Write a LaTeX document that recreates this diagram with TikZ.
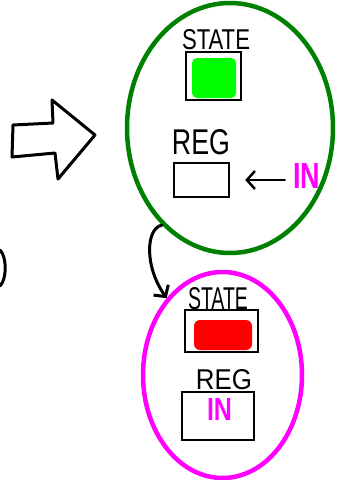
\documentclass[tikz,border=0pt]{standalone}
\usepackage{fontspec}
\setmainfont{Liberation Sans}
\usetikzlibrary{shapes.geometric,arrows.meta}
\definecolor{ovalgreen}{RGB}{0,128,0}
\definecolor{inkgreen}{RGB}{0,255,0}
\definecolor{inkred}{RGB}{255,0,0}
\definecolor{inkmagenta}{RGB}{255,0,255}
% hand-lettered caption stretched to a given width and cap height
\newcommand{\handtext}[3]{\resizebox{#1}{#2}{#3}}

\begin{document}
\begin{tikzpicture}[x=1pt,y=-1pt,
  oval/.style={ellipse, draw, line width=4.5pt, inner sep=0pt},
  regbox/.style={draw, line width=2.5pt, inner sep=0pt},
  caption/.style={inner sep=0pt, anchor=center},
  ink/.style={line width=3pt, line cap=round, line join=round},
  barb/.style={-{Straight Barb[length=8pt,width=18pt]}}]
\useasboundingbox (0,0) rectangle (337,480);

% the two machine states
\node[oval, draw=ovalgreen, minimum width=206pt, minimum height=250pt] (top) at (230,128) {};
\node[oval, draw=inkmagenta, minimum width=159pt, minimum height=206pt] (bot) at (222.5,375) {};

% upper state: STATE register (green) and empty REG
\node[caption] (stateUlbl) at (216,40) {\handtext{68pt}{20pt}{STATE}};
\fill[inkgreen, rounded corners=5pt] (192,58) rectangle (236,98);
\node[regbox, minimum width=55pt, minimum height=48pt] (stateU) at (213.5,76) {};
\node[caption] (regUlbl) at (201,142.5) {\handtext{58pt}{25pt}{REG}};
\node[regbox, minimum width=55pt, minimum height=34pt] (regU) at (201.5,180) {};
\node[caption, text=inkmagenta] (inU) at (306.5,175.5) {\handtext{27pt}{25pt}{\bfseries IN}};
\draw[ink, line width=2.5pt, barb, shorten <=8pt, shorten >=15pt] (inU.west |- regU.east) -- (regU.east);

% lower state: STATE register (red) and REG holding IN
\node[caption] (stateLlbl) at (218,299) {\handtext{60pt}{22pt}{STATE}};
\fill[inkred, rounded corners=6pt] (194,320) rectangle (252,350);
\node[regbox, minimum width=73pt, minimum height=42pt] (stateL) at (221.5,331) {};
\node[caption] (regLlbl) at (224,380) {\handtext{56pt}{20pt}{REG}};
\node[regbox, minimum width=72pt, minimum height=48pt] (regL) at (218,416) {};
\node[caption, text=inkmagenta] (inL) at (219.5,409) {\handtext{25pt}{22pt}{\bfseries IN}};

% transition between the states
\draw[ink, barb] (top.235) .. controls (146,228) and (144,266) .. (bot.126);

% block arrow on the left
\draw[ink] (13,125) -- (53,123) -- (52,100) -- (95,135) -- (58,179) -- (55,153) -- (12,157) -- cycle;

% edge of a shape cut off at the left border
\draw[ink] (0,250) .. controls (7,257) and (7,279) .. (0,286);
\end{tikzpicture}
\end{document}
